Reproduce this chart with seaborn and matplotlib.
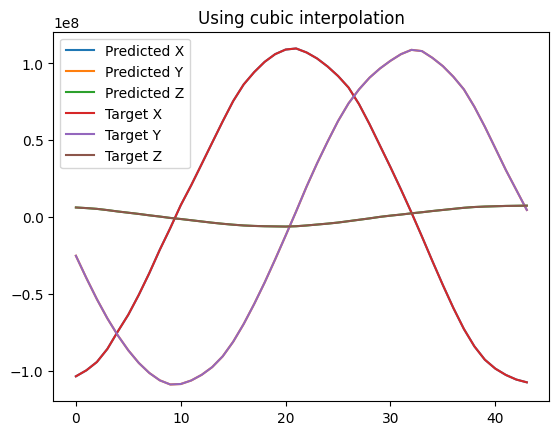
import numpy as np
import pandas as pd
import matplotlib
matplotlib.use("Agg")
import matplotlib.pyplot as plt
import seaborn as sns

# values, in units of 1e8
target_x = [-1.035, -0.996, -0.942, -0.857, -0.743, -0.634, -0.505, -0.364, -0.212, -0.071,
            0.078, 0.208, 0.346, 0.485, 0.623, 0.755, 0.863, 0.943, 1.010, 1.060,
            1.090, 1.097, 1.071, 1.032, 0.980, 0.918, 0.843, 0.735, 0.605, 0.465,
            0.325, 0.180, 0.030, -0.126, -0.286, -0.442, -0.591, -0.727, -0.840, -0.927,
            -0.985, -1.026, -1.056, -1.074]
target_y = [-0.251, -0.396, -0.533, -0.658, -0.769, -0.866, -0.948, -1.013, -1.061, -1.088,
            -1.085, -1.062, -1.025, -0.975, -0.905, -0.810, -0.695, -0.565, -0.425, -0.275,
            -0.120, 0.037, 0.199, 0.350, 0.491, 0.625, 0.740, 0.831, 0.907, 0.967,
            1.017, 1.060, 1.088, 1.080, 1.036, 0.982, 0.913, 0.831, 0.718, 0.588,
            0.448, 0.307, 0.177, 0.047]
target_z = [0.063, 0.059, 0.054, 0.046, 0.037, 0.029, 0.021, 0.012, 0.004, -0.005,
            -0.012, -0.020, -0.028, -0.036, -0.043, -0.049, -0.054, -0.057, -0.059, -0.060,
            -0.061, -0.059, -0.054, -0.048, -0.042, -0.035, -0.026, -0.017, -0.008, 0.002,
            0.010, 0.017, 0.025, 0.032, 0.040, 0.047, 0.054, 0.061, 0.066, 0.069,
            0.071, 0.073, 0.074, 0.075]

# predictions sit right on top of the targets
pred_x = list(target_x)
pred_y = list(target_y)
pred_z = list(target_z)

scale = 1e8
steps = np.arange(len(target_x))

series = [("Predicted X", pred_x), ("Predicted Y", pred_y), ("Predicted Z", pred_z),
          ("Target X", target_x), ("Target Y", target_y), ("Target Z", target_z)]

fig, ax = plt.subplots(figsize=(6.4, 4.8), dpi=100)
for name, vals in series:
    df = pd.DataFrame({"step": steps, "value": np.array(vals) * scale})
    sns.lineplot(data=df, x="step", y="value", ax=ax, label=name)

ax.set_xlabel("")
ax.set_ylabel("")
ax.set_title("Using cubic interpolation")
ax.legend(loc="upper left")

fig.savefig("out.png", dpi=100, bbox_inches="tight")
